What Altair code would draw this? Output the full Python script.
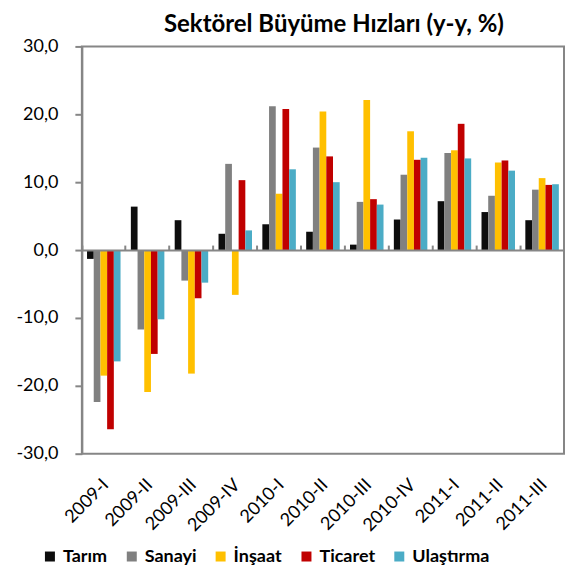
import altair as alt
import pandas as pd

categories = ["2009-I", "2009-II", "2009-III", "2009-IV", "2010-I", "2010-II",
              "2010-III", "2010-IV", "2011-I", "2011-II", "2011-III"]
series_names = ["Tarım", "Sanayi", "İnşaat", "Ticaret", "Ulaştırma"]
series_colors = ["#0d0d0d", "#808080", "#ffc000", "#c00000", "#4bacc6"]

tarim = [-1.3, 6.4, 4.4, 2.4, 3.8, 2.7, 0.8, 4.5, 7.2, 5.6, 4.4]
sanayi = [-22.4, -11.7, -4.5, 12.7, 21.2, 15.1, 7.1, 11.1, 14.3, 8.0, 8.9]
insaat = [-18.5, -20.9, -18.2, -6.6, 8.3, 20.4, 22.1, 17.5, 14.7, 12.9, 10.6]
ticaret = [-26.4, -15.3, -7.1, 10.3, 20.8, 13.8, 7.5, 13.3, 18.6, 13.2, 9.6]
ulastirma = [-16.4, -10.2, -4.8, 2.9, 11.9, 10.0, 6.7, 13.6, 13.5, 11.7, 9.7]

y_ticks = [-30, -20, -10, 0, 10, 20, 30]

rows = []
for name, vals in zip(series_names, [tarim, sanayi, insaat, ticaret, ulastirma]):
    for c, v in zip(categories, vals):
        rows.append({"Dönem": c, "Sektör": name, "Değer": v})
df = pd.DataFrame(rows)

GRAY = "#868686"
FONT = "Lato"

x_scale = alt.Scale(paddingInner=0, paddingOuter=0)
xo_scale = alt.Scale(paddingInner=0, paddingOuter=0.77)
y_enc = alt.Y(
    "Değer:Q",
    scale=alt.Scale(domain=[-30, 30], nice=False),
    axis=alt.Axis(
        values=y_ticks, title=None, grid=False,
        labelExpr="(datum.value < 0 ? '-' : '') + replace(format(abs(datum.value), '.1f'), '.', ',')",
        labelFontSize=18, labelFont=FONT, labelColor="#000000", labelPadding=17,
        tickSize=7, tickColor=GRAY, tickWidth=2,
        domainColor=GRAY, domainWidth=2,
    ),
)
color_enc = alt.Color(
    "Sektör:N",
    scale=alt.Scale(domain=series_names, range=series_colors),
    legend=alt.Legend(
        title=None, orient="none", direction="horizontal",
        legendX=-41, legendY=502, padding=0,
        symbolType="square", symbolSize=100, symbolStrokeWidth=0,
        labelFontSize=18, labelFont=FONT, labelFontWeight="bold", labelColor="#000000",
        labelOffset=4, columnPadding=15,
    ),
)

bars = alt.Chart(df).mark_bar().encode(
    x=alt.X("Dönem:N", sort=categories, scale=x_scale,
            axis=alt.Axis(title=None, domain=False, ticks=False, tickSize=0,
                          labelAngle=-45, labelFontSize=18, labelFont=FONT,
                          labelColor="#000000", labelPadding=22, labelOffset=-4)),
    xOffset=alt.XOffset("Sektör:N", sort=series_names, scale=xo_scale),
    y=y_enc,
    color=color_enc,
)

zero_axis = alt.Chart(df).mark_bar(opacity=0).encode(
    x=alt.X("Dönem:N", sort=categories, scale=x_scale,
            axis=alt.Axis(title=None, labels=False, offset=-204, bandPosition=0,
                          domain=True, domainColor=GRAY, domainWidth=2,
                          ticks=True, tickSize=5, tickColor=GRAY, tickWidth=2,
                          zindex=1)),
    xOffset=alt.XOffset("Sektör:N", sort=series_names, scale=xo_scale),
    y=y_enc,
)

chart = alt.layer(bars, zero_axis).resolve_axis(x="independent").properties(
    width=483, height=408,
    title=alt.Title("Sektörel Büyüme Hızları (y-y, %)", fontSize=24, font=FONT,
                    fontWeight="bold", color="#000000", anchor="middle", offset=0, dx=11),
    autosize=alt.AutoSizeParams(type="none"),
    padding={"left": 74, "top": 38, "right": 2, "bottom": 112},
).configure_view(stroke=GRAY, strokeWidth=2)

chart.save("out.html", embed_options={"renderer": "svg", "actions": False})
